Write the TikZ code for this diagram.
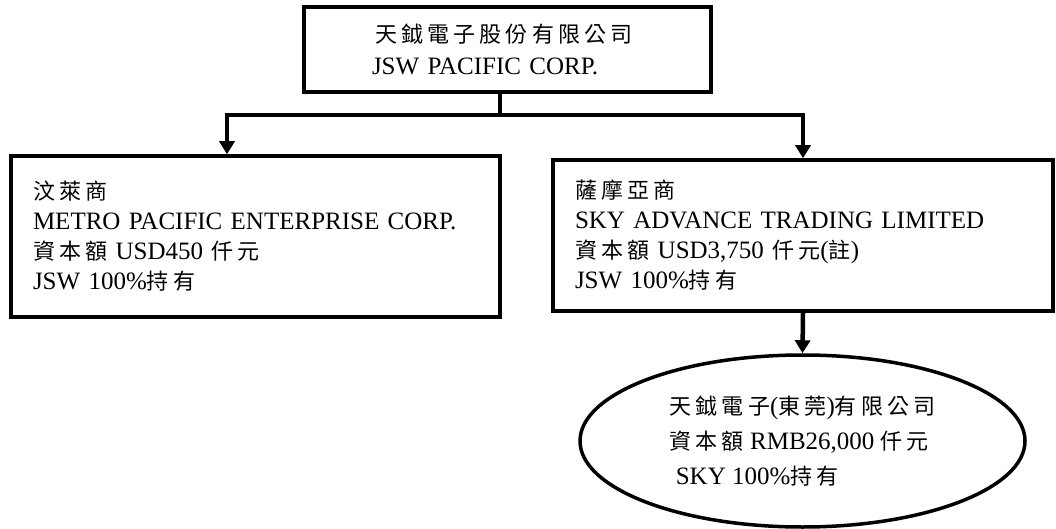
\documentclass[tikz,border=0pt]{standalone}
\usepackage{fontspec}
\setmainfont{Liberation Serif}
\newfontfamily\cjkfont[Scale=0.88,LetterSpace=19]{Noto Sans CJK TC}
\newcommand\zh[1]{{\cjkfont #1}}
\usetikzlibrary{shapes.geometric,arrows.meta}
\begin{document}
\begin{tikzpicture}[x=1pt,y=-1pt,
  every node/.style={font=\fontsize{25}{30}\selectfont},
  box/.style={draw,line width=3.5pt,rectangle,align=left,inner ysep=0pt},
  ell/.style={draw,line width=3.5pt,ellipse,align=left,inner sep=0pt,minimum width=445pt,minimum height=172pt},
  conn/.style={line width=4.5pt},
  arr/.style={line width=4.5pt,-{Triangle[width=15pt,length=13pt]}}]
\useasboundingbox (0,0) rectangle (1056,529);
\node[box,minimum width=407pt,minimum height=85pt,inner xsep=68pt,text width=271pt,font=\fontsize{25}{32}\selectfont] (top) at (507.5,49.5)
  {\hspace*{3pt}\zh{天鉞電子股份有限公司}\\JSW PACIFIC CORP.};
\node[box,minimum width=489pt,minimum height=161pt,inner xsep=22pt,text width=445pt] (left) at (255.5,236.5)
  {\zh{汶萊商}\\METRO PACIFIC ENTERPRISE CORP.\\\zh{資本額} USD450 \zh{仟元}\\JSW 100\%\zh{持有}};
\node[box,minimum width=500pt,minimum height=151pt,inner xsep=22pt,text width=456pt] (right) at (803,235.5)
  {\zh{薩摩亞商}\\SKY ADVANCE TRADING LIMITED\\\zh{資本額} USD3,750 \zh{仟元}(\zh{註})\\JSW 100\%\zh{持有}};
\node[ell,font=\fontsize{25}{35}\selectfont] (ell) at (802.5,441)
  {\zh{天鉞電子}(\zh{東莞})\zh{有限公司}\\\zh{資本額} RMB26,000 \zh{仟元}\\\ SKY 100\%\zh{持有}};
\coordinate (j) at (500,115);
\coordinate (lj) at (227,115);
\coordinate (rj) at (803,115);
\draw[conn] (top.south -| j) -- (j);
\draw[arr] (j) -- (lj) -- (lj |- left.north);
\draw[arr] (j) -- (rj) -- (rj |- right.north);
\draw[arr] (right.south) -- (ell.north);
\end{tikzpicture}
\end{document}
